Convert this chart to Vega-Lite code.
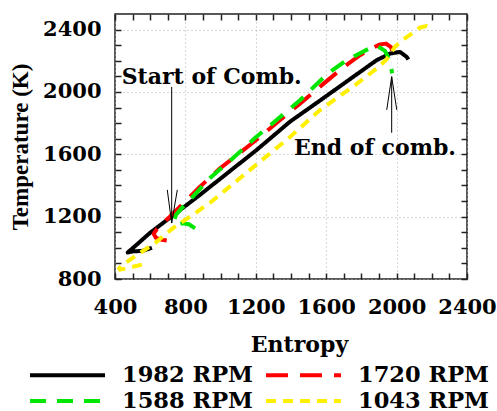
{
  "$schema": "https://vega.github.io/schema/vega-lite/v6.json",
  "autosize": {"type": "none"},
  "padding": {"left": 115, "top": 14, "right": 30, "bottom": 132},
  "width": 352,
  "height": 265,
  "background": "white",
  "datasets": {
    "curves": [
      {"s": "1982 RPM", "i": 0, "x": 610, "y": 1000},
      {"s": "1982 RPM", "i": 1, "x": 559, "y": 981},
      {"s": "1982 RPM", "i": 2, "x": 502, "y": 977},
      {"s": "1982 RPM", "i": 3, "x": 472, "y": 970},
      {"s": "1982 RPM", "i": 4, "x": 514, "y": 1011},
      {"s": "1982 RPM", "i": 5, "x": 599, "y": 1096},
      {"s": "1982 RPM", "i": 6, "x": 883, "y": 1340},
      {"s": "1982 RPM", "i": 7, "x": 1205, "y": 1628},
      {"s": "1982 RPM", "i": 8, "x": 1394, "y": 1809},
      {"s": "1982 RPM", "i": 9, "x": 1565, "y": 1945},
      {"s": "1982 RPM", "i": 10, "x": 1735, "y": 2082},
      {"s": "1982 RPM", "i": 11, "x": 1887, "y": 2204},
      {"s": "1982 RPM", "i": 12, "x": 1963, "y": 2246},
      {"s": "1982 RPM", "i": 13, "x": 2019, "y": 2257},
      {"s": "1982 RPM", "i": 14, "x": 2057, "y": 2225},
      {"s": "1982 RPM", "i": 15, "x": 2067, "y": 2208},

      {"s": "1720 RPM", "i": 0, "x": 694, "y": 1047},
      {"s": "1720 RPM", "i": 1, "x": 665, "y": 1052},
      {"s": "1720 RPM", "i": 2, "x": 633, "y": 1064},
      {"s": "1720 RPM", "i": 3, "x": 619, "y": 1090},
      {"s": "1720 RPM", "i": 4, "x": 639, "y": 1122},
      {"s": "1720 RPM", "i": 5, "x": 673, "y": 1160},
      {"s": "1720 RPM", "i": 6, "x": 713, "y": 1201},
      {"s": "1720 RPM", "i": 7, "x": 883, "y": 1392},
      {"s": "1720 RPM", "i": 8, "x": 997, "y": 1510},
      {"s": "1720 RPM", "i": 9, "x": 1195, "y": 1685},
      {"s": "1720 RPM", "i": 10, "x": 1338, "y": 1820},
      {"s": "1720 RPM", "i": 11, "x": 1451, "y": 1925},
      {"s": "1720 RPM", "i": 12, "x": 1582, "y": 2050},
      {"s": "1720 RPM", "i": 13, "x": 1696, "y": 2157},
      {"s": "1720 RPM", "i": 14, "x": 1792, "y": 2236},
      {"s": "1720 RPM", "i": 15, "x": 1860, "y": 2280},
      {"s": "1720 RPM", "i": 16, "x": 1906, "y": 2305},
      {"s": "1720 RPM", "i": 17, "x": 1940, "y": 2310},
      {"s": "1720 RPM", "i": 18, "x": 1968, "y": 2287},
      {"s": "1720 RPM", "i": 19, "x": 1991, "y": 2221},

      {"s": "1588 RPM", "i": 0, "x": 855, "y": 1125},
      {"s": "1588 RPM", "i": 1, "x": 820, "y": 1151},
      {"s": "1588 RPM", "i": 2, "x": 781, "y": 1157},
      {"s": "1588 RPM", "i": 3, "x": 747, "y": 1148},
      {"s": "1588 RPM", "i": 4, "x": 735, "y": 1173},
      {"s": "1588 RPM", "i": 5, "x": 747, "y": 1212},
      {"s": "1588 RPM", "i": 6, "x": 775, "y": 1250},
      {"s": "1588 RPM", "i": 7, "x": 826, "y": 1308},
      {"s": "1588 RPM", "i": 8, "x": 940, "y": 1448},
      {"s": "1588 RPM", "i": 9, "x": 1065, "y": 1570},
      {"s": "1588 RPM", "i": 10, "x": 1195, "y": 1704},
      {"s": "1588 RPM", "i": 11, "x": 1338, "y": 1839},
      {"s": "1588 RPM", "i": 12, "x": 1451, "y": 1947},
      {"s": "1588 RPM", "i": 13, "x": 1605, "y": 2114},
      {"s": "1588 RPM", "i": 14, "x": 1707, "y": 2197},
      {"s": "1588 RPM", "i": 15, "x": 1803, "y": 2255},
      {"s": "1588 RPM", "i": 16, "x": 1860, "y": 2287},
      {"s": "1588 RPM", "i": 17, "x": 1896, "y": 2291},
      {"s": "1588 RPM", "i": 18, "x": 1934, "y": 2263},
      {"s": "1588 RPM", "i": 19, "x": 1955, "y": 2215},
      {"s": "1588 RPM", "i": 20, "x": 1966, "y": 2170},
      {"s": "1588 RPM", "i": 21, "x": 1975, "y": 2120},

      {"s": "1043 RPM", "i": 0, "x": 553, "y": 892},
      {"s": "1043 RPM", "i": 1, "x": 514, "y": 882},
      {"s": "1043 RPM", "i": 2, "x": 474, "y": 870},
      {"s": "1043 RPM", "i": 3, "x": 428, "y": 860},
      {"s": "1043 RPM", "i": 4, "x": 423, "y": 869},
      {"s": "1043 RPM", "i": 5, "x": 457, "y": 902},
      {"s": "1043 RPM", "i": 6, "x": 514, "y": 946},
      {"s": "1043 RPM", "i": 7, "x": 627, "y": 1030},
      {"s": "1043 RPM", "i": 8, "x": 731, "y": 1128},
      {"s": "1043 RPM", "i": 9, "x": 855, "y": 1222},
      {"s": "1043 RPM", "i": 10, "x": 949, "y": 1297},
      {"s": "1043 RPM", "i": 11, "x": 1167, "y": 1500},
      {"s": "1043 RPM", "i": 12, "x": 1394, "y": 1711},
      {"s": "1043 RPM", "i": 13, "x": 1565, "y": 1884},
      {"s": "1043 RPM", "i": 14, "x": 1764, "y": 2044},
      {"s": "1043 RPM", "i": 15, "x": 1887, "y": 2150},
      {"s": "1043 RPM", "i": 16, "x": 1944, "y": 2210},
      {"s": "1043 RPM", "i": 17, "x": 1991, "y": 2290},
      {"s": "1043 RPM", "i": 18, "x": 2036, "y": 2335},
      {"s": "1043 RPM", "i": 19, "x": 2088, "y": 2376},
      {"s": "1043 RPM", "i": 20, "x": 2133, "y": 2413},
      {"s": "1043 RPM", "i": 21, "x": 2171, "y": 2423},
      {"s": "1043 RPM", "i": 22, "x": 2187, "y": 2411}
    ],
    "arrows": [
      {"x": 722, "y": 2032, "x2": 722, "y2": 1159},
      {"x": 697, "y": 1372, "x2": 722, "y2": 1159},
      {"x": 754, "y": 1372, "x2": 722, "y2": 1159},
      {"x": 1972, "y": 1738, "x2": 1972, "y2": 2098},
      {"x": 1944, "y": 1885, "x2": 1972, "y2": 2098},
      {"x": 2001, "y": 1885, "x2": 1972, "y2": 2098}
    ],
    "notes": [
      {"label": "Start of Comb.", "x": 438, "y": 2050},
      {"label": "End of comb.", "x": 1417, "y": 1596}
    ]
  },
  "layer": [
    {
      "data": {"name": "curves"},
      "mark": {"type": "line", "strokeWidth": 4, "strokeCap": "butt", "strokeJoin": "round"},
      "encoding": {
        "x": {
          "field": "x", "type": "quantitative",
          "scale": {"domain": [400, 2400], "nice": false, "zero": false},
          "axis": {
            "orient": "bottom",
            "values": [400, 500, 600, 700, 800, 900, 1000, 1100, 1200, 1300, 1400, 1500, 1600, 1700, 1800, 1900, 2000, 2100, 2200, 2300, 2400],
            "format": "d",
            "labelExpr": "datum.value % 400 == 0 ? datum.label : ''",
            "labelPadding": 23,
            "grid": true,
            "gridOpacity": {"condition": {"test": "datum.value % 400 == 0", "value": 1}, "value": 0},
            "title": "Entropy",
            "titleFont": "DejaVu Serif",
            "titleFontSize": 22,
            "titlePadding": 17,
            "titleX": 184
          }
        },
        "y": {
          "field": "y", "type": "quantitative",
          "scale": {"domain": [800, 2500], "nice": false, "zero": false},
          "axis": {
            "orient": "left",
            "values": [800, 900, 1000, 1100, 1200, 1300, 1400, 1500, 1600, 1700, 1800, 1900, 2000, 2100, 2200, 2300, 2400],
            "format": "d",
            "labelExpr": "datum.value % 400 == 0 ? datum.label : ''",
            "grid": true,
            "gridOpacity": {"condition": {"test": "datum.value % 400 == 0", "value": 1}, "value": 0},
            "title": "Temperature (K)",
            "titleFont": "Liberation Serif",
            "titleFontSize": 23,
            "titlePadding": 10
          }
        },
        "order": {"field": "i", "type": "quantitative"},
        "color": {
          "field": "s", "type": "nominal",
          "scale": {
            "domain": ["1982 RPM", "1588 RPM", "1720 RPM", "1043 RPM"],
            "range": ["#000000", "#00e600", "#ff0000", "#ffef00"]
          },
          "legend": {"title": null}
        },
        "strokeDash": {
          "field": "s", "type": "nominal",
          "scale": {
            "domain": ["1982 RPM", "1588 RPM", "1720 RPM", "1043 RPM"],
            "range": [[1, 0], [16, 11], [22, 12], [10, 7]]
          },
          "legend": {"title": null}
        }
      }
    },
    {
      "data": {"name": "arrows"},
      "mark": {"type": "rule", "color": "#000000", "strokeWidth": 1},
      "encoding": {
        "x": {
          "field": "x", "type": "quantitative",
          "scale": {"domain": [400, 2400], "nice": false, "zero": false},
          "axis": {
            "orient": "top",
            "values": [400, 500, 600, 700, 800, 900, 1000, 1100, 1200, 1300, 1400, 1500, 1600, 1700, 1800, 1900, 2000, 2100, 2200, 2300, 2400],
            "labels": false, "grid": false, "title": null
          }
        },
        "y": {
          "field": "y", "type": "quantitative",
          "scale": {"domain": [800, 2500], "nice": false, "zero": false},
          "axis": {
            "orient": "right",
            "values": [800, 900, 1000, 1100, 1200, 1300, 1400, 1500, 1600, 1700, 1800, 1900, 2000, 2100, 2200, 2300, 2400],
            "labels": false, "grid": false, "title": null
          }
        },
        "x2": {"field": "x2"},
        "y2": {"field": "y2"}
      }
    },
    {
      "data": {"name": "notes"},
      "mark": {"type": "text", "align": "left", "baseline": "alphabetic", "font": "DejaVu Serif", "fontWeight": "bold", "fontSize": 22, "color": "#000000"},
      "encoding": {
        "x": {"field": "x", "type": "quantitative", "scale": {"domain": [400, 2400], "nice": false, "zero": false}, "axis": null},
        "y": {"field": "y", "type": "quantitative", "scale": {"domain": [800, 2500], "nice": false, "zero": false}, "axis": null},
        "text": {"field": "label"}
      }
    }
  ],
  "resolve": {"axis": {"x": "independent", "y": "independent"}},
  "config": {
    "view": {"stroke": "#222222", "strokeWidth": 1.5},
    "axis": {
      "domain": false,
      "tickSize": -6,
      "tickColor": "#222222",
      "tickWidth": 1.5,
      "gridColor": "#b0b0b0",
      "gridDash": [1, 3],
      "gridWidth": 1,
      "labelFont": "DejaVu Serif",
      "labelFontWeight": "bold",
      "labelFontSize": 21,
      "labelColor": "#000000",
      "labelPadding": 20,
      "labelOverlap": false,
      "labelFlush": false,
      "titleFontWeight": "bold",
      "titleColor": "#000000"
    },
    "legend": {
      "orient": "none",
      "legendX": -87,
      "legendY": 349,
      "columns": 2,
      "columnPadding": 5,
      "rowPadding": 2,
      "symbolType": "M-1,0H6.5",
      "symbolSize": 400,
      "symbolStrokeWidth": 4,
      "symbolFillColor": "transparent",
      "labelOffset": 70,
      "labelFont": "DejaVu Serif",
      "labelFontWeight": "bold",
      "labelFontSize": 22.5,
      "labelColor": "#000000",
      "labelLimit": 0
    }
  }
}
